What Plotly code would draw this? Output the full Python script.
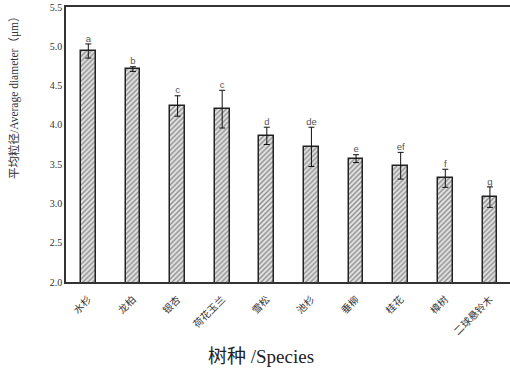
import plotly.graph_objects as go

species = ["水杉", "龙柏", "银杏", "荷花玉兰", "雪松", "池杉", "垂柳", "桂花", "樟树", "二球悬铃木"]
means = [4.94, 4.71, 4.24, 4.20, 3.86, 3.72, 3.57, 3.48, 3.32, 3.08]
errors = [0.09, 0.03, 0.13, 0.24, 0.11, 0.25, 0.05, 0.17, 0.115, 0.13]
letters = ["a", "b", "c", "c", "d", "de", "e", "ef", "f", "g"]
yticks = [2.0, 2.5, 3.0, 3.5, 4.0, 4.5, 5.0, 5.5]

serif = "Liberation Serif, Times New Roman, Noto Sans CJK SC"

fig = go.Figure()
fig.add_trace(go.Bar(
    x=list(range(len(species))), y=means, width=0.33,
    marker=dict(color="#d8d8d8", line=dict(color="#222222", width=1.5),
                pattern=dict(shape="/", fgcolor="#333333", bgcolor="#e4e4e4", size=3.5, solidity=0.4)),
    error_y=dict(type="data", array=errors, color="#111111", thickness=1, width=3),
    showlegend=False,
))
fig.add_trace(go.Scatter(
    x=list(range(len(species))), y=[m + e for m, e in zip(means, errors)],
    mode="text", text=letters, textposition="top center",
    textfont=dict(family="Liberation Sans, Arial", size=9.5, color="#555555"),
    showlegend=False, hoverinfo="skip",
))
fig.update_layout(
    width=510, height=374,
    margin=dict(l=66, r=0, t=7, b=92, autoexpand=False),
    plot_bgcolor="white", paper_bgcolor="white",
    bargap=0,
)
fig.update_xaxes(
    range=[-0.5, 9.45], tickmode="array", tickvals=list(range(len(species))), ticktext=species,
    tickangle=-45, tickfont=dict(family=serif, size=10, color="#333333"),
    showline=True, mirror=True, linecolor="#333333", linewidth=1.5, ticks="", showgrid=False,
    automargin=False, ticklabelstandoff=6,
)
fig.update_yaxes(
    range=[2.0, 5.5], tickmode="array", tickvals=yticks, ticktext=[f"{v:.1f}" for v in yticks],
    tickfont=dict(family=serif, size=10, color="#333333"),
    showline=True, linecolor="#333333", linewidth=1.5, ticks="", showgrid=False, zeroline=False,
    automargin=False,
)
fig.add_annotation(
    text="平均粒径/Average diameter（μm）", xref="paper", yref="paper",
    x=-52 / 444, y=(282 - 95) / 275, textangle=-90,
    xanchor="center", yanchor="middle", showarrow=False,
    font=dict(family=serif, size=11.5, color="#333333"),
)
fig.add_annotation(
    text="树种 /Species", xref="paper", yref="paper", x=(261 - 66) / 444, y=-0.27,
    xanchor="center", yanchor="middle", showarrow=False,
    font=dict(family=serif, size=19, color="#222222"),
)
fig.write_html("out.html", config={"displayModeBar": False},
               post_script="document.body.style.margin='0';")
